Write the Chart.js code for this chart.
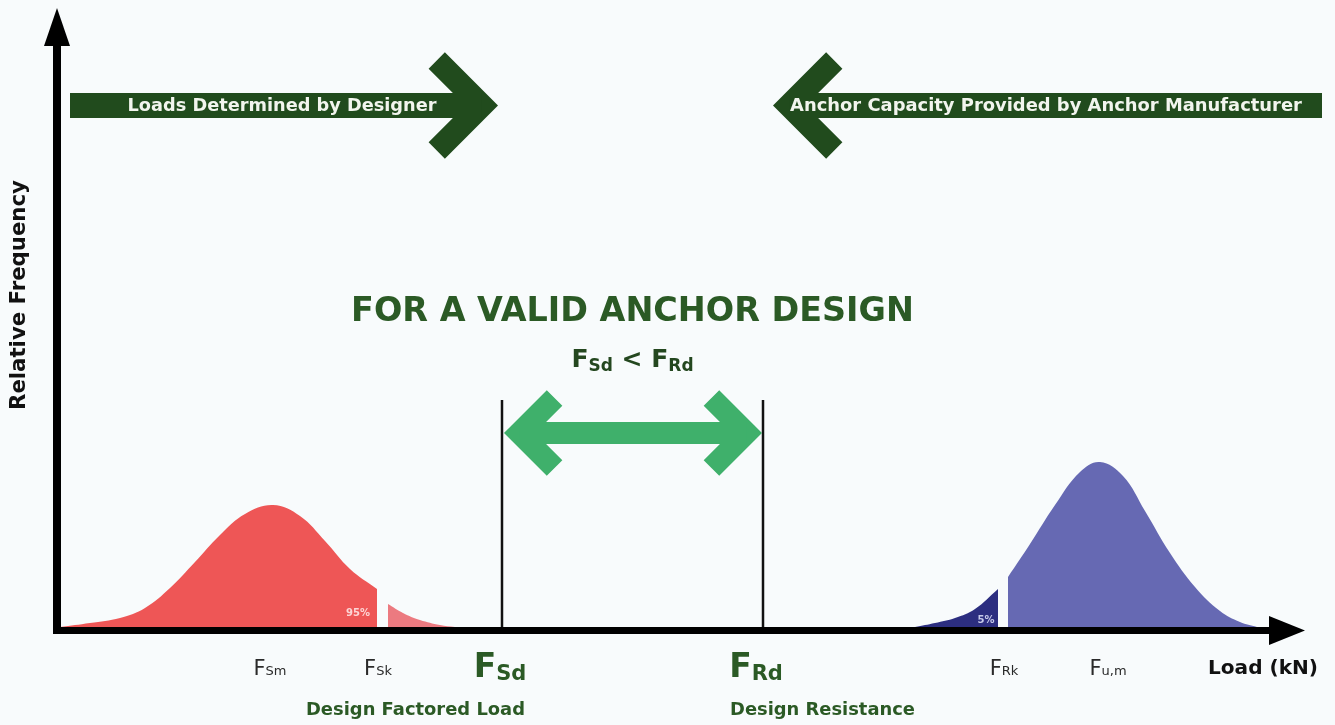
<!DOCTYPE html>
<html>
<head>
<meta charset="utf-8">
<title>Anchor design: load vs resistance</title>
<script src="https://cdn.jsdelivr.net/npm/chart.js@4.4.1/dist/chart.umd.min.js"></script>
<style>
  html, body { margin: 0; padding: 0; background: #f8fbfc; }
  #wrap { width: 1335px; height: 725px; }
</style>
</head>
<body>
<div id="wrap"><canvas id="chart" width="1335" height="725"></canvas></div>
<script>
// load / relative frequency (arbitrary units)
const sdLoad = [0, 3.0, 6.0, 8.5, 11.0, 13.5, 16.0, 18.5, 21.3, 24.0, 26.5, 29.0, 31.7];
const sdFreq = [0, 0.4, 0.9, 1.9, 3.9, 6.5, 9.2, 11.3, 12.2, 11.1, 8.6, 5.8, 3.8];
const sdTailLoad = [32.8, 34.3, 36.0, 38.0, 39.5];
const sdTailFreq = [2.3, 1.4, 0.7, 0.2, 0];

const rkTailLoad = [85.5, 87.5, 89.5, 91.5, 93.8];
const rkTailFreq = [0, 0.4, 0.9, 1.8, 3.8];
const ruLoad = [94.8, 97.0, 99.5, 102.0, 104.0, 106.3, 108.5, 111.0, 113.5, 116.0, 118.0, 119.7];
const ruFreq = [5.0, 8.3, 12.2, 15.5, 16.5, 15.1, 11.6, 7.4, 4.0, 1.6, 0.5, 0];

// design values (vertical lines) and their height
const designLoads = [44.2, 70.3];
const designTop = 22.7;

// tick labels under the axis: F + subscript
const tickSubs = ['Sm', 'Sk', 'Sd', 'Rd', 'Rk', 'u,m'];
const tickLoads = [21.0, 31.8, 44.0, 69.6, 94.4, 104.8];
const tickBig = [false, false, true, true, false, false];

const tailLabels = ['95%', '5%'];
const tailLabelLoads = [29.8, 92.6];
const tailLabelFreq = [1.4, 0.7];

const FONT = '"DejaVu Sans", Verdana, sans-serif';
const DARK_GREEN = '#214b1d';
const TEXT_GREEN = '#2b5a25';
const LIGHT_GREEN = '#3fb06b';

const toPoints = (xs, ys) => xs.map((x, i) => ({ x: x, y: ys[i] }));

const area = (xs, ys, color) => ({
  data: toPoints(xs, ys),
  backgroundColor: color,
  borderWidth: 0,
  pointRadius: 0,
  fill: 'origin',
  tension: 0.4
});

const vline = (x) => ({
  data: [{ x: x, y: 0 }, { x: x, y: designTop }],
  borderColor: '#111',
  borderWidth: 2.5,
  pointRadius: 0,
  fill: false,
  tension: 0
});

/**
 * text sized so that it spans `width` px
 */
const fitText = (ctx, text, cx, cy, width, weight, color) => {
  ctx.font = weight + ' 100px ' + FONT;
  const size = 100 * width / ctx.measureText(text).width;
  ctx.font = weight + ' ' + size.toFixed(2) + 'px ' + FONT;
  ctx.fillStyle = color;
  ctx.textAlign = 'center';
  ctx.textBaseline = 'middle';
  ctx.fillText(text, cx, cy);
};

// "F" + subscript, centered on cx, sitting on baseline y
const drawSub = (ctx, sub, cx, y, mainFont, subFont, drop, color) => {
  ctx.textBaseline = 'alphabetic';
  ctx.textAlign = 'left';
  ctx.fillStyle = color;
  ctx.font = mainFont;
  const wF = ctx.measureText('F').width;
  ctx.font = subFont;
  const wS = ctx.measureText(sub).width;
  const x0 = cx - (wF + wS) / 2;
  ctx.font = mainFont;
  ctx.fillText('F', x0, y);
  ctx.font = subFont;
  ctx.fillText(sub, x0 + wF, y + drop);
  return wF + wS;
};

// thick chevron; dir = 1 points right, -1 points left
const chevron = (ctx, tipX, cy, dir, arm, w, color) => {
  const vx = tipX - dir * w / Math.SQRT2;
  ctx.save();
  ctx.strokeStyle = color;
  ctx.lineWidth = w;
  ctx.lineJoin = 'miter';
  ctx.lineCap = 'butt';
  ctx.beginPath();
  ctx.moveTo(vx - dir * arm, cy - arm);
  ctx.lineTo(vx, cy);
  ctx.lineTo(vx - dir * arm, cy + arm);
  ctx.stroke();
  ctx.restore();
  return vx;
};

const decorPlugin = {
  id: 'decor',
  beforeDraw(chart) {
    const ctx = chart.ctx;
    ctx.save();
    ctx.fillStyle = '#f8fbfc';
    ctx.fillRect(0, 0, chart.width, chart.height);
    ctx.restore();
  },
  afterDatasetsDraw(chart) {
    const ctx = chart.ctx,
      ca = chart.chartArea,
      xs = chart.scales.x,
      ys = chart.scales.y;

    ctx.save();

    // axes with arrow heads
    ctx.fillStyle = '#000';
    ctx.fillRect(ca.left - 7, 44, 8, ca.bottom + 7 - 44);
    ctx.beginPath();
    ctx.moveTo(ca.left - 3, ca.top + 1);
    ctx.lineTo(ca.left - 16, 46);
    ctx.lineTo(ca.left + 10, 46);
    ctx.closePath();
    ctx.fill();

    ctx.fillRect(ca.left - 7, ca.bottom, ca.right - 34 - ca.left + 7, 7);
    ctx.beginPath();
    ctx.moveTo(ca.right, ca.bottom + 3.5);
    ctx.lineTo(ca.right - 36, ca.bottom - 11);
    ctx.lineTo(ca.right - 36, ca.bottom + 18);
    ctx.closePath();
    ctx.fill();

    // tail percentages
    ctx.font = 'bold 10px ' + FONT;
    ctx.textAlign = 'center';
    ctx.textBaseline = 'middle';
    ctx.fillStyle = 'rgba(255,235,235,0.85)';
    ctx.fillText(tailLabels[0], xs.getPixelForValue(tailLabelLoads[0]), ys.getPixelForValue(tailLabelFreq[0]));
    ctx.fillStyle = 'rgba(215,218,245,0.9)';
    ctx.fillText(tailLabels[1], xs.getPixelForValue(tailLabelLoads[1]), ys.getPixelForValue(tailLabelFreq[1]));

    const xSd = xs.getPixelForValue(designLoads[0]),
      xRd = xs.getPixelForValue(designLoads[1]);

    // top banners
    const bannerY = 105.5;
    const vL = chevron(ctx, xSd - 4, bannerY, 1, 45, 23, DARK_GREEN);
    ctx.fillStyle = DARK_GREEN;
    ctx.fillRect(ca.left + 10, bannerY - 12.5, vL - ca.left - 10, 25);
    fitText(ctx, 'Loads Determined by Designer', 282, bannerY + 1, 309, 'bold', '#f2f5ee');

    const vR = chevron(ctx, xRd + 10, bannerY, -1, 45, 23, DARK_GREEN);
    ctx.fillStyle = DARK_GREEN;
    ctx.fillRect(vR, bannerY - 12.5, chart.width - 13 - vR, 25);
    fitText(ctx, 'Anchor Capacity Provided by Anchor Manufacturer', 1046, bannerY + 1, 512, 'bold', '#f2f5ee');

    // double arrow between the design values
    const midY = ys.getPixelForValue(19.4);
    const lTip = chevron(ctx, xSd + 2, midY, -1, 35, 22, LIGHT_GREEN);
    const rTip = chevron(ctx, xRd - 1, midY, 1, 35, 22, LIGHT_GREEN);
    ctx.fillStyle = LIGHT_GREEN;
    ctx.fillRect(lTip, midY - 11, rTip - lTip, 22);

    // headline
    const midX = (xSd + xRd) / 2;
    fitText(ctx, 'FOR A VALID ANCHOR DESIGN', midX, ys.getPixelForValue(31.5), 563, 'bold', TEXT_GREEN);

    // F_Sd < F_Rd
    ctx.textBaseline = 'alphabetic';
    const fMain = 'bold 25px ' + FONT,
      fSub = 'bold 17px ' + FONT,
      base = ys.getPixelForValue(26.0);
    ctx.font = fMain;
    const ltW = ctx.measureText(' < ').width;
    const wF = ctx.measureText('F').width;
    ctx.font = fSub;
    const wSd = ctx.measureText('Sd').width,
      wRd = ctx.measureText('Rd').width;
    const total = wF * 2 + wSd + wRd + ltW;
    let x = midX - total / 2;
    drawSub(ctx, 'Sd', x + (wF + wSd) / 2, base, fMain, fSub, 4, '#24471f');
    x += wF + wSd;
    ctx.font = fMain;
    ctx.textAlign = 'left';
    ctx.fillText(' < ', x, base);
    x += ltW;
    drawSub(ctx, 'Rd', x + (wF + wRd) / 2, base, fMain, fSub, 4, '#24471f');

    // tick labels under the axis
    tickSubs.forEach((sub, i) => {
      const cx = xs.getPixelForValue(tickLoads[i]);
      if (tickBig[i]) {
        drawSub(ctx, sub, cx, 677, 'bold 33px ' + FONT, 'bold 21px ' + FONT, 3, TEXT_GREEN);
      } else {
        drawSub(ctx, sub, cx, 675, '21px ' + FONT, '13px ' + FONT, 0, '#2a2a2a');
      }
    });

    fitText(ctx, 'Design Factored Load', (306 + 525) / 2, 710, 219, 'bold', TEXT_GREEN);
    fitText(ctx, 'Design Resistance', (730 + 915) / 2, 710, 185, 'bold', TEXT_GREEN);
    fitText(ctx, 'Load (kN)', (1208 + 1318) / 2, 669, 110, 'bold', '#111');

    // y axis title
    ctx.save();
    ctx.translate(19, 295);
    ctx.rotate(-Math.PI / 2);
    fitText(ctx, 'Relative Frequency', 0, 0, 230, 'bold', '#111');
    ctx.restore();

    ctx.restore();
  }
};

new Chart(document.getElementById('chart'), {
  type: 'line',
  data: {
    datasets: [
      area(sdLoad, sdFreq, '#ee5656'),
      area(sdTailLoad, sdTailFreq, '#ec7a80'),
      area(rkTailLoad, rkTailFreq, '#2c2e80'),
      area(ruLoad, ruFreq, '#6669b3'),
      vline(designLoads[0]),
      vline(designLoads[1])
    ]
  },
  options: {
    responsive: false,
    devicePixelRatio: 1,
    animation: false,
    layout: { padding: { left: 60, right: 30, top: 7, bottom: 98 } },
    scales: {
      x: { type: 'linear', min: 0, max: 124.5, display: false },
      y: { min: 0, max: 62, display: false }
    },
    plugins: {
      legend: { display: false },
      tooltip: { enabled: false }
    }
  },
  plugins: [decorPlugin]
});
</script>
</body>
</html>
